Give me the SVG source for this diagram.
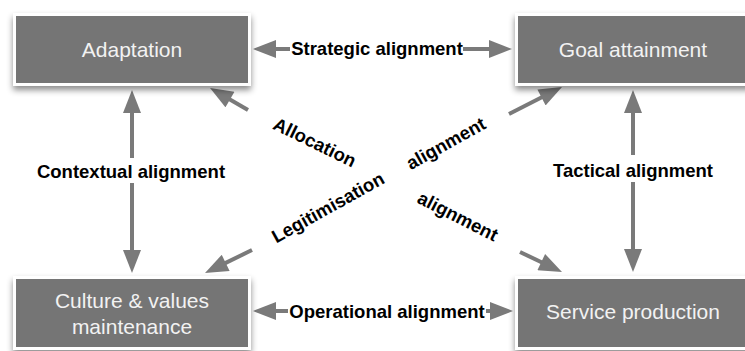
<svg xmlns="http://www.w3.org/2000/svg" width="745" height="351" viewBox="0 0 745 351">
<defs>
<filter id="sh" x="-10%" y="-20%" width="120%" height="150%">
<feDropShadow dx="0" dy="4" stdDeviation="3" flood-color="#000" flood-opacity="0.45"/>
</filter>
<marker id="ah" markerUnits="userSpaceOnUse" markerWidth="24" markerHeight="18" viewBox="0 0 23 18" refX="13" refY="9" orient="auto-start-reverse">
<path d="M0,0 L23,9 L0,18 z" fill="#7a7a7a"/>
</marker>
</defs>
<style>
.box{fill:#757575;stroke:#ffffff;stroke-width:3;filter:url(#sh)}
.nt{font-family:"Liberation Sans",Helvetica,Arial,sans-serif;font-size:21px;fill:#f2f2f2;text-anchor:middle}
.el{font-family:"Liberation Sans",Helvetica,Arial,sans-serif;font-size:18.5px;font-weight:bold;fill:#000;text-anchor:middle}
.ln{stroke:#7a7a7a;stroke-width:4;fill:none}
</style>
<rect width="745" height="351" fill="#ffffff"/>
<g id="connectors">
<path class="ln" d="M263,49 L290,49" marker-start="url(#ah)"/>
<path class="ln" d="M463,49 L502,49" marker-end="url(#ah)"/>
<path class="ln" d="M263,311 L288,311" marker-start="url(#ah)"/>
<path class="ln" d="M486,311 L503,311" marker-end="url(#ah)"/>
<path class="ln" d="M132,100 L132,158" marker-start="url(#ah)"/>
<path class="ln" d="M132,183 L132,263" marker-end="url(#ah)"/>
<path class="ln" d="M633,100 L633,155" marker-start="url(#ah)"/>
<path class="ln" d="M633,182 L633,262" marker-end="url(#ah)"/>
<path class="ln" d="M248,110 L218.7,93" marker-end="url(#ah)"/>
<path class="ln" d="M509,114 L553.1,91.5" marker-end="url(#ah)"/>
<path class="ln" d="M252,250 L214,268.6" marker-end="url(#ah)"/>
<path class="ln" d="M520,252 L553,267.7" marker-end="url(#ah)"/>
<text class="el" x="377" y="55">Strategic alignment</text>
<text class="el" x="387" y="318">Operational alignment</text>
<text class="el" x="131" y="178">Contextual alignment</text>
<text class="el" x="633" y="177">Tactical alignment</text>
<text class="el" transform="translate(312,148) rotate(26)">Allocation</text>
<text class="el" transform="translate(331,213) rotate(-29)">Legitimisation</text>
<text class="el" transform="translate(449,149) rotate(-29)">alignment</text>
<text class="el" transform="translate(455,222) rotate(27)">alignment</text>
</g>
<g id="adaptation">
<rect class="box" x="14.5" y="14.5" width="235" height="70"/>
<text class="nt" x="132" y="57">Adaptation</text>
</g>
<g id="goal-attainment">
<rect class="box" x="516.5" y="14.5" width="235" height="70"/>
<text class="nt" x="633" y="57">Goal attainment</text>
</g>
<g id="culture-values">
<rect class="box" x="14.5" y="277.5" width="235" height="71"/>
<text class="nt" x="132" y="308">Culture &amp; values</text>
<text class="nt" x="132" y="334">maintenance</text>
</g>
<g id="service-production">
<rect class="box" x="516.5" y="277.5" width="235" height="71"/>
<text class="nt" x="633" y="319">Service production</text>
</g>
</svg>
